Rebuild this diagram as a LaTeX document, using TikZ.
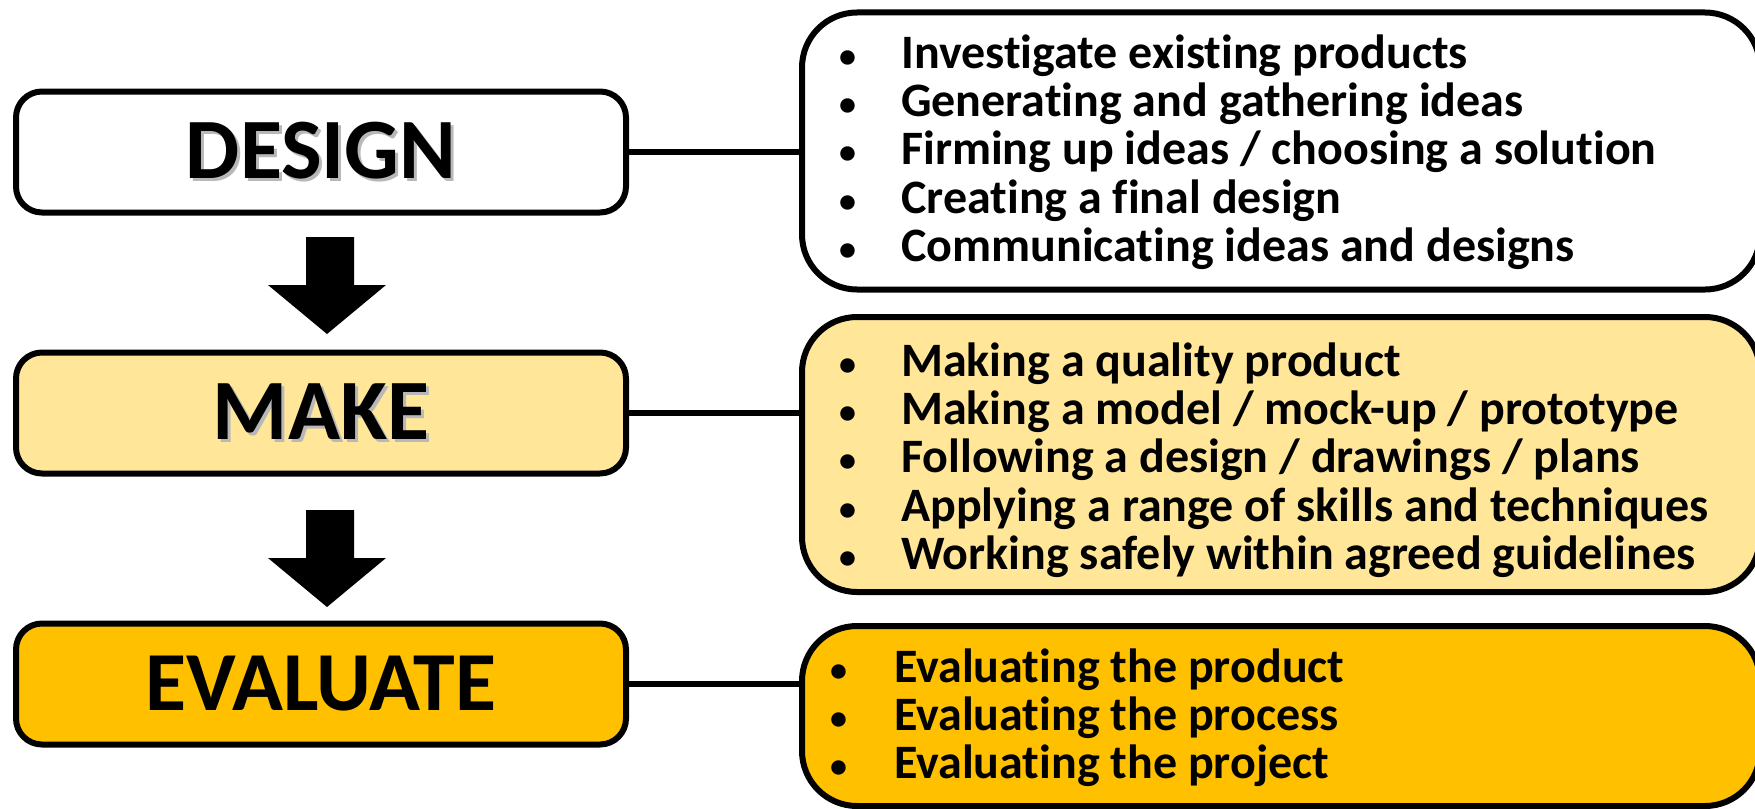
\documentclass[tikz,border=0pt]{standalone}
\usepackage{fontspec}
\usetikzlibrary{calc}
\setmainfont[Ligatures=NoCommon]{Carlito}
\definecolor{makefill}{HTML}{FFE699}
\definecolor{evalfill}{HTML}{FFC000}
\newcommand{\shadowed}[1]{\makebox[0pt][l]{\hspace{3pt}\raisebox{-3pt}{\textcolor{black!28}{#1}}}#1}
\newcommand{\smallbullet}{{\fontsize{34}{34}\selectfont\raisebox{1pt}{\textbullet}}}
\newcommand{\bitem}[1]{\makebox[62pt][l]{\smallbullet}#1}
\newcommand{\citem}[1]{\makebox[64pt][l]{\smallbullet}#1}
\begin{document}
\begin{tikzpicture}[x=1pt,y=-1pt,
  stage/.style={draw=black, line width=6pt, rounded corners=26pt,
    minimum width=610pt, minimum height=121pt, inner sep=0pt,
    font=\fontsize{86}{88}\selectfont\bfseries},
  listbox/.style={draw=black, line width=6pt, rounded corners=55pt,
    minimum width=958pt, inner sep=0pt},
  listtext/.style={anchor=base west, inner sep=0pt,
    font=\fontsize{48}{48.4}\selectfont\bfseries},
  link/.style={draw=black, line width=5.5pt},
  blockarrow/.style={fill=black, draw=none}
]
\useasboundingbox (0,0) rectangle (1755,808);

% left stages
\node[stage, fill=white] (design) at (321,152) {\shadowed{DESIGN}};
\node[stage, fill=makefill] (make) at (321,413) {\shadowed{MAKE}};
\node[stage, fill=evalfill, font=\fontsize{84}{86}\selectfont\bfseries] (evaluate) at (321,684) {EVALUATE};

% right lists
\node[listbox, fill=white, minimum height=277pt] (l1) at (1281,151) {};
\node[listbox, fill=makefill, minimum height=275pt] (l2) at (1281,454.5) {};
\node[listbox, fill=evalfill, minimum height=180pt] (l3) at (1281,716) {};

\node[listtext] (t1) at (839,68) {\begin{tabular}[t]{@{}l@{}}
\bitem{Investigate existing products}\\
\bitem{Generating and gathering ideas}\\
\bitem{Firming up ideas / choosing a solution}\\
\bitem{Creating a final design}\\
\bitem{Communicating ideas and designs}\end{tabular}};

\node[listtext] (t2) at (839,376) {\begin{tabular}[t]{@{}l@{}}
\bitem{Making a quality product}\\
\bitem{Making a model / mock-up / prototype}\\
\bitem{Following a design / drawings / plans}\\
\bitem{Applying a range of skills and techniques}\\
\bitem{Working safely within agreed guidelines}\end{tabular}};

\node[listtext] (t3) at (830,682) {\begin{tabular}[t]{@{}l@{}}
\citem{Evaluating the product}\\
\citem{Evaluating the process}\\
\citem{Evaluating the project}\end{tabular}};

% connectors
\draw[link] (design.east) -- (design.east -| l1.west);
\draw[link] (make.east) -- (make.east -| l2.west);
\draw[link] (evaluate.east) -- (evaluate.east -| l3.west);

% block arrows
\coordinate (a1) at (327,237);
\coordinate (a2) at (327,510);
\foreach \a in {a1,a2}{
  \fill[blockarrow] ($(\a)+(-21,0)$) -- ($(\a)+(27,0)$) -- ($(\a)+(27,48)$) -- ($(\a)+(59,48)$)
    -- ($(\a)+(0,97)$) -- ($(\a)+(-59,48)$) -- ($(\a)+(-21,48)$) -- cycle;
}
\end{tikzpicture}
\end{document}
